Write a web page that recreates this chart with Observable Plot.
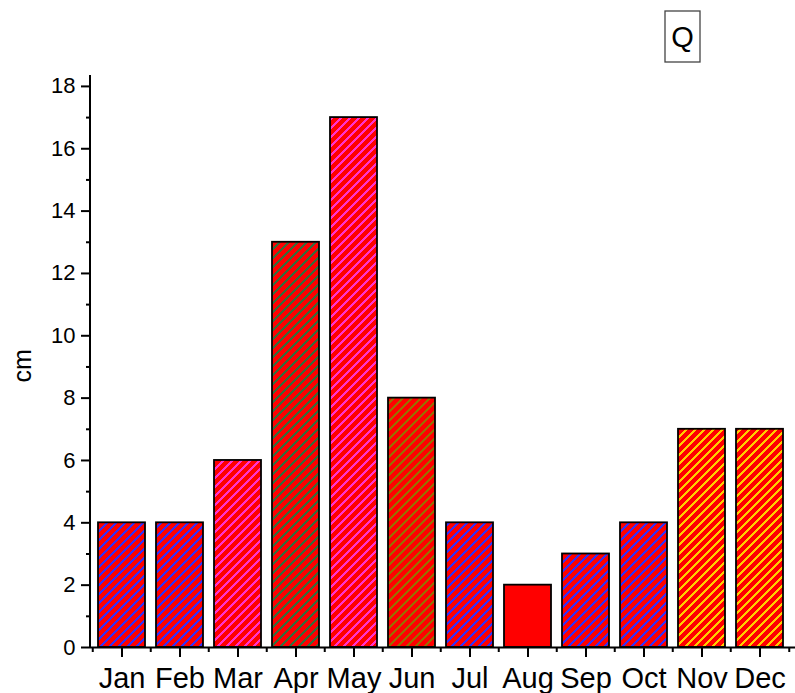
<!DOCTYPE html>
<html><head><meta charset="utf-8">
<script src="https://cdn.jsdelivr.net/npm/d3@7"></script>
<script src="https://cdn.jsdelivr.net/npm/@observablehq/plot@0.6"></script>
<style>body{margin:0;background:#fff;}</style>
</head><body><div id="chart"></div>
<script>
const months = ["Jan","Feb","Mar","Apr","May","Jun","Jul","Aug","Sep","Oct","Nov","Dec"];
const values = [4,4,6,13,17,8,4,2,3,4,7,7];
const hatchColors = ["#3a2ef0","#3a2ef0","#ff33cc","#3a6a3a","#ff33cc","#9c6b00","#3a2ef0",null,"#3a2ef0","#3a2ef0","#ffcc00","#ffcc00"];
const yTicks = [0,2,4,6,8,10,12,14,16,18];
const yMinorTicks = [1,3,5,7,9,11,13,15,17];
const yLabel = "cm";
const cornerLabel = "Q";

const data = months.map((m,i)=>({month:m, cm:values[i], fill: hatchColors[i] ? `url(#hatch${i})` : "#ff0000"}));

const xRange = [87, 793.5];
const paddingInner = 0.197, paddingOuter = 0.137;
const step = (xRange[1]-xRange[0])/(months.length - paddingInner + 2*paddingOuter);

const plot = Plot.plot({
  width:795, height:693, marginLeft:90, marginRight:0, marginTop:75, marginBottom:46,
  style:{fontFamily:"'Liberation Sans', Arial, sans-serif", background:"#fff", color:"#000"},
  x:{domain:months, range:xRange, paddingInner, paddingOuter},
  y:{domain:[0,18.35]},
  color:{type:"identity"},
  marks:[
    Plot.barY(data,{x:"month", y:"cm", fill:"fill", stroke:"#000", strokeWidth:1.8}),
    Plot.ruleY([0],{strokeWidth:2}),
    Plot.axisY({ticks:yTicks, tickSize:9, tickPadding:6, fontSize:22, strokeWidth:2, label:null}),
    Plot.axisY({ticks:yMinorTicks, tickSize:4, tickFormat:()=>"", strokeWidth:2, label:null}),
    Plot.axisX({ticks:months, tickSize:10, tickPadding:10, fontSize:29, strokeWidth:2, label:null}),
    Plot.axisX({ticks:months, tickSize:5, tickFormat:()=>"", strokeWidth:2, dx:-step/2, label:null}),
    Plot.axisX({ticks:[months[months.length-1]], tickSize:5, tickFormat:()=>"", strokeWidth:2, dx:step/2, label:null}),
    Plot.text([yLabel], {text:d=>d, frameAnchor:"left", dx:-68, dy:21, rotate:-90, fontSize:25})
  ]
});

const svg = d3.select(plot);
const defs = svg.insert("defs", ":first-child");
const P = 9;
hatchColors.forEach((c,i)=>{
  if(!c) return;
  const p = defs.append("pattern").attr("id",`hatch${i}`).attr("patternUnits","userSpaceOnUse").attr("width",P).attr("height",P);
  p.append("rect").attr("width",P).attr("height",P).attr("fill","#ff0000");
  p.append("path").attr("d",`M-2,2 L2,-2 M0,${P} L${P},0 M${P-2},${P+2} L${P+2},${P-2}`)
    .attr("stroke",c).attr("stroke-width",2).attr("shape-rendering","crispEdges");
});
const ys = plot.scale("y");
svg.append("line").attr("x1",90).attr("x2",90).attr("y1",ys.apply(0)+1).attr("y2",ys.apply(18.35))
  .attr("stroke","#000").attr("stroke-width",2);
const g = svg.append("g");
g.append("rect").attr("x",665).attr("y",11).attr("width",35).attr("height",51).attr("fill","none").attr("stroke","#444").attr("stroke-width",1.3);
g.append("text").attr("x",682.5).attr("y",47).attr("text-anchor","middle").attr("font-size",29).attr("fill","#000").text(cornerLabel);

document.getElementById("chart").appendChild(plot);
</script>
</body></html>
